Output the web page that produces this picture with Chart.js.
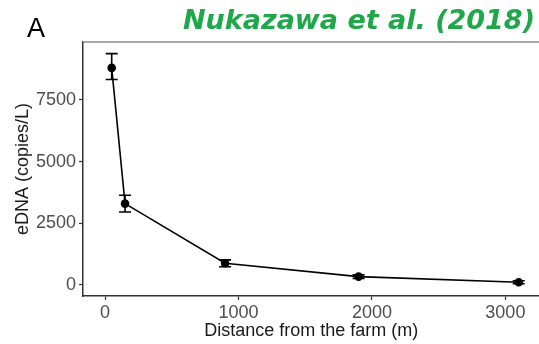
<!DOCTYPE html>
<html>
<head>
<meta charset="utf-8">
<script src="https://cdn.jsdelivr.net/npm/chart.js@4.4.1/dist/chart.umd.min.js"></script>
<style>
  html, body { margin: 0; padding: 0; background: #fff; overflow: hidden; }
  #wrap { width: 539px; height: 344px; position: relative; overflow: hidden; }
</style>
</head>
<body>
<div id="wrap"><canvas id="chart" width="545" height="344"></canvas></div>
<script>
// distance from the farm (m) and mean eDNA (copies/L)
const distances = [50, 150, 900, 1900, 3100];
const eDNA = [8800, 3300, 880, 340, 110];
// error bar ends
const errLow = [8330, 2960, 740, 270, 50];
const errHigh = [9380, 3640, 1020, 410, 170];
// axis ticks
const xTicks = [0, 1000, 2000, 3000];
const yTicks = [0, 2500, 5000, 7500];

const labelFont = { family: 'Liberation Sans, Arial, sans-serif', size: 18 };

// error bars drawn through the chart scales
const errorBars = {
  id: 'errorBars',
  beforeDatasetsDraw(chart) {
    const ctx = chart.ctx;
    const xs = chart.scales.x, ys = chart.scales.y;
    ctx.save();
    ctx.strokeStyle = '#000';
    ctx.lineWidth = 1.6;
    distances.forEach((d, i) => {
      const x = xs.getPixelForValue(d);
      const yl = ys.getPixelForValue(errLow[i]);
      const yh = ys.getPixelForValue(errHigh[i]);
      ctx.beginPath();
      ctx.moveTo(x, yl); ctx.lineTo(x, yh);
      ctx.moveTo(x - 6, yl); ctx.lineTo(x + 6, yl);
      ctx.moveTo(x - 6, yh); ctx.lineTo(x + 6, yh);
      ctx.stroke();
    });
    ctx.restore();
  }
};

// panel top edge, panel letter and source note
const decorations = {
  id: 'decorations',
  afterDraw(chart) {
    const ctx = chart.ctx;
    const a = chart.chartArea;
    ctx.save();
    ctx.strokeStyle = '#8c8c8c';
    ctx.lineWidth = 1.5;
    ctx.beginPath();
    ctx.moveTo(a.left, a.top); ctx.lineTo(a.right + 10, a.top);
    ctx.stroke();

    ctx.fillStyle = '#000';
    ctx.font = '27px Liberation Sans, Arial, sans-serif';
    ctx.textAlign = 'center';
    ctx.textBaseline = 'alphabetic';
    ctx.fillText('A', 36, 37);

    ctx.fillStyle = '#1fa84a';
    ctx.font = 'italic bold 27px DejaVu Sans, sans-serif';
    ctx.textAlign = 'right';
    ctx.fillText('Nukazawa et al. (2018)', 535, 29);
    ctx.restore();
  }
};

new Chart(document.getElementById('chart'), {
  type: 'line',
  data: {
    datasets: [{
      data: distances.map((d, i) => ({ x: d, y: eDNA[i] })),
      borderColor: '#000',
      borderWidth: 1.6,
      pointBackgroundColor: '#000',
      pointBorderColor: '#000',
      pointRadius: 3.5,
      tension: 0
    }]
  },
  options: {
    responsive: false,
    animation: false,
    layout: { padding: { top: 42, left: 0, right: 0, bottom: 0 } },
    plugins: { legend: { display: false }, tooltip: { enabled: false } },
    scales: {
      x: {
        type: 'linear',
        min: -165,
        max: 3255,
        afterBuildTicks: s => { s.ticks = xTicks.map(v => ({ value: v })); },
        afterFit: s => { s.height = 48; },
        grid: { drawOnChartArea: false, tickLength: 4, color: '#333', tickWidth: 1.2 },
        border: { color: '#333', width: 1.5 },
        ticks: { color: '#4d4d4d', font: labelFont, padding: 2, maxRotation: 0, callback: v => String(v) },
        title: { display: true, text: 'Distance from the farm (m)', color: '#1a1a1a', font: labelFont, padding: { top: 0, bottom: 2 } }
      },
      y: {
        type: 'linear',
        min: -446,
        max: 9850,
        afterBuildTicks: s => { s.ticks = yTicks.map(v => ({ value: v })); },
        afterFit: s => { s.width = 83; },
        grid: { drawOnChartArea: false, tickLength: 4, color: '#333', tickWidth: 1.2 },
        border: { color: '#333', width: 1.5 },
        ticks: { color: '#4d4d4d', font: labelFont, padding: 3, callback: v => String(v) },
        title: { display: true, text: 'eDNA (copies/L)', color: '#1a1a1a', font: labelFont, padding: { top: 12, bottom: 0 } }
      }
    }
  },
  plugins: [errorBars, decorations]
});
</script>
</body>
</html>
